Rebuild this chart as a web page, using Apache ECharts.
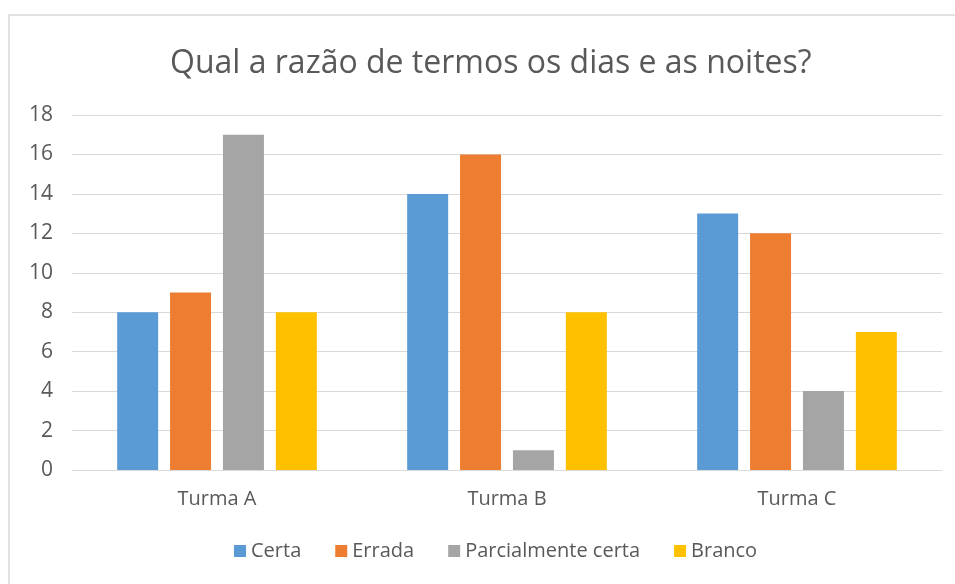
<!DOCTYPE html>
<html>
<head>
<meta charset="utf-8">
<script src="https://cdn.jsdelivr.net/npm/echarts@6/dist/echarts.min.js"></script>
<style>
  html, body { margin: 0; padding: 0; background: #fff; }
  #chart { width: 955px; height: 584px; }
</style>
</head>
<body>
<div id="chart"></div>
<script>
const categories = ['Turma A', 'Turma B', 'Turma C']
const seriesNames = ['Certa', 'Errada', 'Parcialmente certa', 'Branco']
const certa = [8, 14, 13]
const errada = [9, 16, 12]
const parcialmente = [17, 1, 4]
const branco = [8, 8, 7]
const colors = ['#5B9BD5', '#ED7D31', '#A5A5A5', '#FFC000']

const chart = echarts.init(document.getElementById('chart'))
const font = 'Open Sans'

const values = [certa, errada, parcialmente, branco]
const series = seriesNames.map((name, i) => ({
  name: name,
  type: 'bar',
  barWidth: 41,
  barGap: '29%',
  data: values[i],
  itemStyle: { color: colors[i] }
}))

chart.setOption({
  backgroundColor: '#fff',
  animation: false,
  color: colors,
  graphic: [{
    type: 'rect',
    shape: { x: 9, y: 15, width: 980, height: 600 },
    style: { fill: 'none', stroke: '#d9d9d9', lineWidth: 1.5 },
    silent: true
  }],
  title: {
    text: 'Qual a razão de termos os dias e as noites?',
    left: 165,
    top: 43,
    textStyle: { fontFamily: font, fontSize: 32, fontWeight: 'normal', color: '#595959' }
  },
  legend: {
    data: seriesNames,
    bottom: 18,
    left: 229,
    icon: 'rect',
    itemWidth: 12,
    itemHeight: 12,
    itemGap: 34,
    textStyle: { fontFamily: font, fontSize: 20, color: '#595959' }
  },
  grid: { left: 72, right: 13, top: 115, bottom: 114 },
  xAxis: {
    type: 'category',
    data: categories,
    axisLine: { lineStyle: { color: '#d9d9d9', width: 1 } },
    axisTick: { show: false },
    axisLabel: { fontFamily: font, fontSize: 20, color: '#595959', margin: 19 }
  },
  yAxis: {
    type: 'value',
    min: 0,
    max: 18,
    interval: 2,
    axisLine: { show: false },
    axisTick: { show: false },
    splitLine: { lineStyle: { color: '#d9d9d9' } },
    axisLabel: { fontFamily: font, fontSize: 21, color: '#595959', margin: 19 }
  },
  series: series
})
</script>
</body>
</html>
